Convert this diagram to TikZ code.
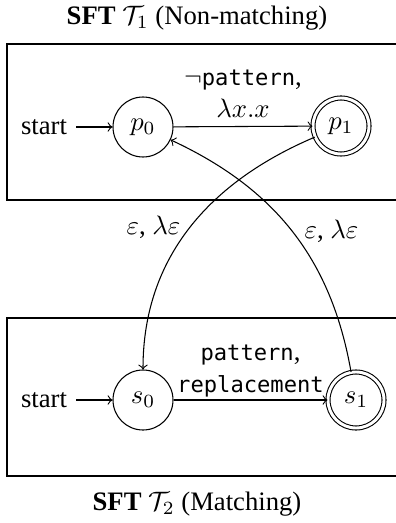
\documentclass[tikz,border=0pt]{standalone}
\usepackage{fontspec}
\setmainfont{Liberation Serif}
\setmonofont[Scale=0.83]{DejaVu Sans Mono}
\usepackage{amsmath}
\usepackage{amssymb}
\usetikzlibrary{positioning}

\begin{document}
\begin{tikzpicture}[
    x=0.375pt, y=-0.375pt,
    state/.style={draw, circle, minimum size=22.5pt, inner sep=0pt},
    accept/.style={state, double, double distance=1.1pt, minimum size=21pt},
    frame/.style={draw},
    lbl/.style={align=center, inner sep=1pt},
    arrow/.style={->}
]
    \useasboundingbox (0,0) rectangle (395,523);

    % Non-matching SFT
    \node (title1) at (197,18) {\textbf{SFT} $\mathcal{T}_1$ (Non-matching)};
    \draw[frame] (7,44) rectangle (402,200);
    \node[state] (p0) at (143,127) {$p_0$};
    \node[accept] (p1) at (341,126) {$p_1$};
    \node (start1) at (44,127) {start};

    % Matching SFT
    \node (title2) at (197,504) {\textbf{SFT} $\mathcal{T}_2$ (Matching)};
    \draw[frame] (7,318) rectangle (402,476);
    \node[state] (s0) at (143,400) {$s_0$};
    \node[accept] (s1) at (356,400) {$s_1$};
    \node (start2) at (44,400) {start};

    % Arrows
    \draw[arrow] (start1) -- (p0);
    \draw[arrow] (p0) -- node[lbl, above=2pt] {$\neg$\texttt{pattern},\\$\lambda x.x$} (p1);
    \draw[arrow] (start2) -- (s0);
    \draw[arrow] (s0) -- node[lbl, above] {\texttt{pattern},\\\texttt{replacement}} (s1);
    \draw[arrow] (p1) to[out=203, in=90] node[pos=0.5, left] {$\varepsilon$, $\lambda\varepsilon$} (s0);
    \draw[arrow] (s1) to[out=100, in=-25] node[pos=0.5, right=1pt] {$\varepsilon$, $\lambda\varepsilon$} (p0);

\end{tikzpicture}
\end{document}
